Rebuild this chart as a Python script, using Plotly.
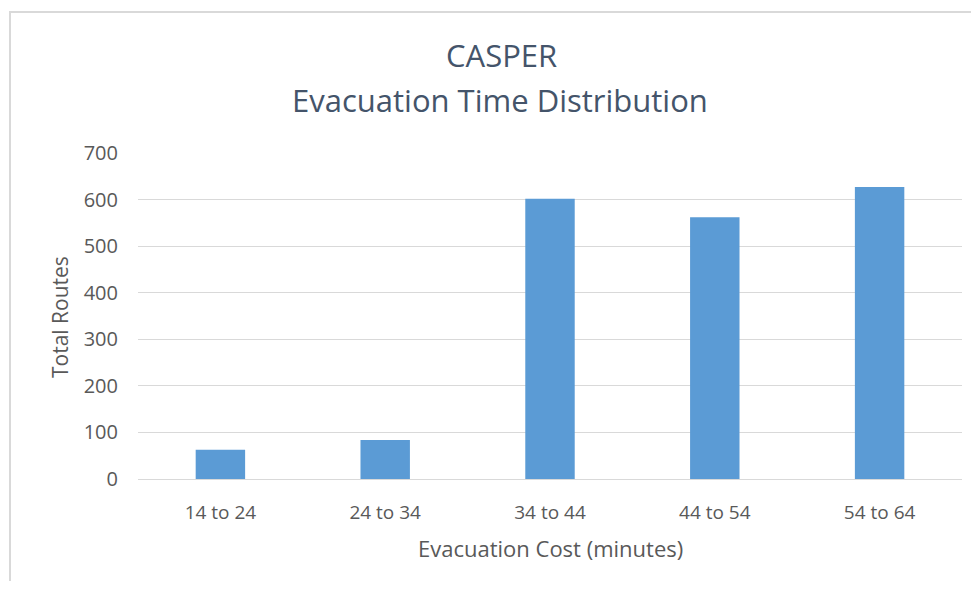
import plotly.graph_objects as go

categories = ["14 to 24", "24 to 34", "34 to 44", "44 to 54", "54 to 64"]
total_routes = [63, 84, 602, 562, 627]
y_ticks = [0, 100, 200, 300, 400, 500, 600, 700]

# page body has an 8px margin; size the figure to fit inside it
OFF = 8
W, H = 979 - 2 * OFF, 589 - 2 * OFF
L = 138 - OFF
T = 153 - OFF
R = W - (962 - OFF)
B = H - (479 - OFF)
pw, ph = W - L - R, H - T - B

font_family = "Open Sans, Arial"
title_color = "#44546A"
text_color = "#595959"

def py(win_y):
    """window pixel y -> paper y"""
    return (H - B - (win_y - OFF)) / ph

def px(win_x):
    return (win_x - OFF - L) / pw

fig = go.Figure()
fig.add_trace(go.Bar(
    x=categories, y=total_routes,
    marker=dict(color="#5B9BD5", line=dict(width=0)),
    width=0.3,
))

fig.update_layout(
    width=W, height=H,
    margin=dict(l=L, r=R, t=T, b=B),
    paper_bgcolor="white", plot_bgcolor="white",
    showlegend=False,
    font=dict(family=font_family, color=text_color),
    xaxis=dict(
        showline=True, linecolor="#d9d9d9", linewidth=1,
        ticks="", tickfont=dict(size=19, color=text_color),
        ticklabelstandoff=16,
        showgrid=False,
    ),
    yaxis=dict(
        range=[0, 700], tickvals=y_ticks,
        showgrid=True, gridcolor="#d9d9d9", gridwidth=1,
        zeroline=False, showline=False, ticks="",
        tickfont=dict(size=20, color=text_color),
        ticklabelstandoff=19,
    ),
    annotations=[
        dict(text="CASPER", xref="paper", yref="paper", x=0.5 * (px(447) + px(556)), y=py(55),
             xanchor="center", yanchor="middle", showarrow=False,
             font=dict(size=31, color=title_color, family=font_family)),
        dict(text="Evacuation Time Distribution", xref="paper", yref="paper",
             x=0.5 * (px(288) + px(712)), y=py(100),
             xanchor="center", yanchor="middle", showarrow=False,
             font=dict(size=31, color=title_color, family=font_family)),
        dict(text="Evacuation Cost (minutes)", xref="paper", yref="paper",
             x=px(550), y=py(548), xanchor="center", yanchor="middle", showarrow=False,
             font=dict(size=22, color=text_color, family=font_family)),
        dict(text="Total Routes", xref="paper", yref="paper",
             x=px(60), y=py(317), xanchor="center", yanchor="middle", showarrow=False,
             textangle=-90,
             font=dict(size=21, color=text_color, family=font_family)),
    ],
    shapes=[dict(
        type="rect", xref="paper", yref="paper",
        x0=px(10), x1=px(990),
        y0=py(600), y1=py(12),
        line=dict(color="#d9d9d9", width=2), fillcolor="rgba(0,0,0,0)",
        layer="below",
    )],
)

fig.write_html("out.html")
